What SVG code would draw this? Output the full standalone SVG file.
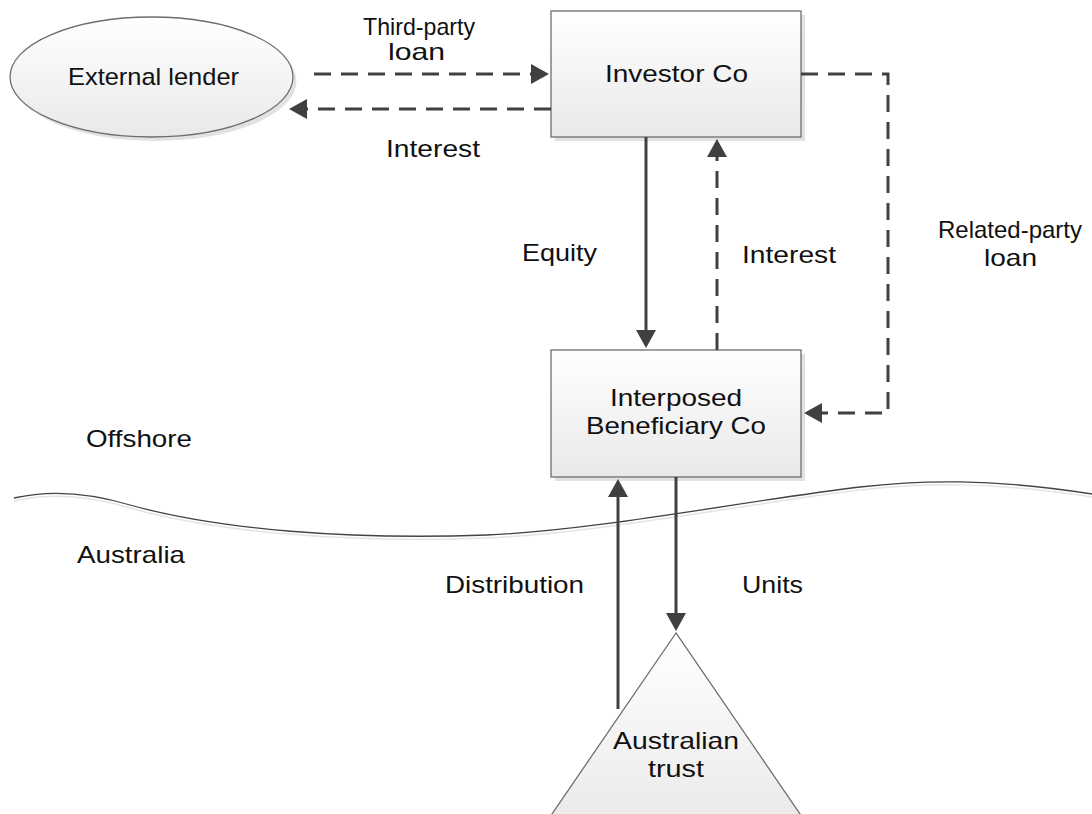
<svg xmlns="http://www.w3.org/2000/svg" width="1092" height="814" viewBox="0 0 1092 814">
<defs>
<linearGradient id="g" x1="0" y1="0" x2="0" y2="1">
<stop offset="0" stop-color="#ffffff"/>
<stop offset="1" stop-color="#e9e9e9"/>
</linearGradient>
<marker id="ah" markerUnits="userSpaceOnUse" markerWidth="20" markerHeight="22" refX="10" refY="10" orient="auto">
<path d="M0,0 L18,10 L0,20 z" fill="#404040"/>
</marker>
<style>
.shape{fill:url(#g);stroke:#6e6e6e;stroke-width:1.3}
.shadow{fill:#e2e2e2;stroke:none}
.lbl{font-family:"Liberation Sans",Arial,sans-serif;font-size:24px;fill:#111}
.c{fill:none;stroke:#404040;stroke-width:3;marker-end:url(#ah)}
.d{stroke-dasharray:17 10}
.wave{fill:none;stroke:#444;stroke-width:1.3}
.waveS{fill:none;stroke:#e4e4e4;stroke-width:1.5}
</style>
</defs>
<rect width="1092" height="814" fill="#ffffff"/>

<g id="boundary">
<path class="waveS" d="M14,501 C40,495 80,493 130,508 C220,533 350,543 487,538 C600,533 750,503 860,490 C920,483 990,481 1092,497"/>
<path class="wave" d="M14,498 C40,492 80,490 130,505 C220,530 350,540 487,535 C600,530 750,500 860,487 C920,480 990,478 1092,494"/>
<text class="lbl" x="86" y="447" textLength="106" lengthAdjust="spacingAndGlyphs">Offshore</text>
<text class="lbl" x="77" y="563" textLength="108" lengthAdjust="spacingAndGlyphs">Australia</text>
</g>

<g id="external-lender">
<ellipse class="shadow" cx="155" cy="81" rx="141.5" ry="60"/>
<ellipse class="shape" cx="151.5" cy="77" rx="141.5" ry="60"/>
<text class="lbl" x="68" y="85" textLength="171" lengthAdjust="spacingAndGlyphs">External lender</text>
</g>

<g id="investor-co">
<rect class="shadow" x="555" y="15" width="250" height="126"/>
<rect class="shape" x="551" y="11" width="250" height="126"/>
<text class="lbl" x="605" y="82" textLength="143" lengthAdjust="spacingAndGlyphs">Investor Co</text>
</g>

<g id="interposed-beneficiary-co">
<rect class="shadow" x="555" y="354" width="250" height="127"/>
<rect class="shape" x="551" y="350" width="250" height="127"/>
<text class="lbl" x="610" y="406" textLength="132" lengthAdjust="spacingAndGlyphs">Interposed</text>
<text class="lbl" x="586" y="434" textLength="180" lengthAdjust="spacingAndGlyphs">Beneficiary Co</text>
</g>

<g id="australian-trust">
<path class="shape" d="M676,633 L541,830 L811,830 Z"/>
<text class="lbl" x="613" y="749" textLength="126" lengthAdjust="spacingAndGlyphs">Australian</text>
<text class="lbl" x="648" y="777" textLength="56" lengthAdjust="spacingAndGlyphs">trust</text>
</g>

<g id="connectors">
<path class="c d" d="M314,74 H541"/>
<path class="c d" d="M551,109 H297"/>
<path class="c" d="M646,137 V340"/>
<path class="c d" d="M717,350 V147"/>
<path class="c d" d="M801,74 H888 V413 H812"/>
<path class="c" d="M676,477 V623"/>
<path class="c" d="M618,709 V487"/>
</g>

<g id="connector-labels">
<text class="lbl" x="363" y="35" textLength="112" lengthAdjust="spacingAndGlyphs">Third-party</text>
<text class="lbl" x="388" y="60" textLength="57" lengthAdjust="spacingAndGlyphs">loan</text>
<text class="lbl" x="386" y="157" textLength="94" lengthAdjust="spacingAndGlyphs">Interest</text>
<text class="lbl" x="522" y="261" textLength="75" lengthAdjust="spacingAndGlyphs">Equity</text>
<text class="lbl" x="742" y="263" textLength="94" lengthAdjust="spacingAndGlyphs">Interest</text>
<text class="lbl" x="938" y="238" textLength="144" lengthAdjust="spacingAndGlyphs">Related-party</text>
<text class="lbl" x="984" y="266" textLength="53" lengthAdjust="spacingAndGlyphs">loan</text>
<text class="lbl" x="445" y="593" textLength="139" lengthAdjust="spacingAndGlyphs">Distribution</text>
<text class="lbl" x="742" y="593" textLength="61" lengthAdjust="spacingAndGlyphs">Units</text>
</g>
</svg>
